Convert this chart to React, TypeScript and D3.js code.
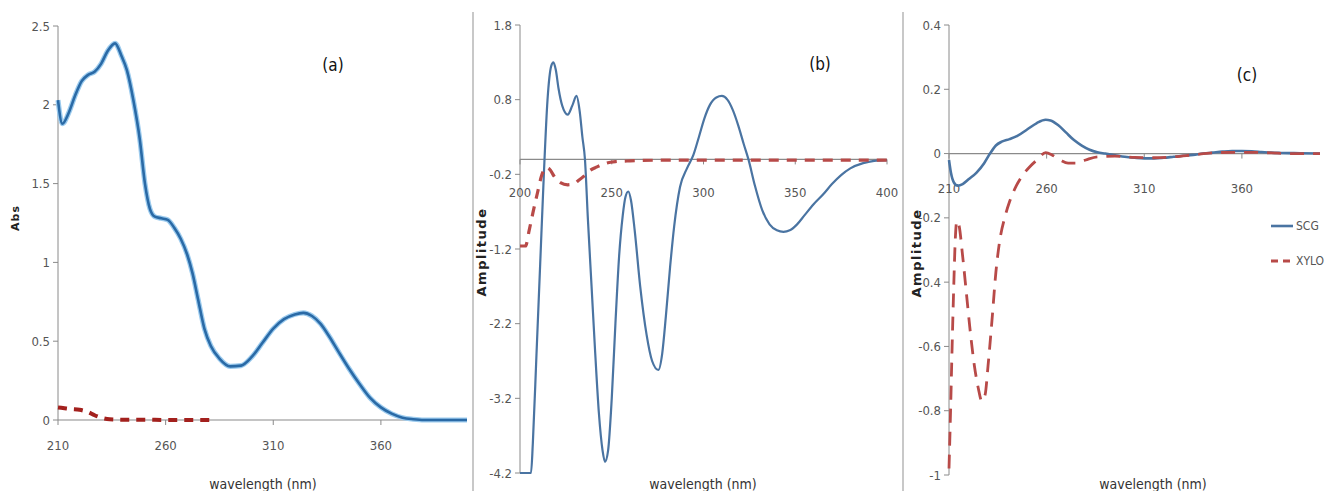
import React from 'react';
import * as d3 from 'd3';

// ---- data ----
// panel (a): absorbance spectra
const absScg: [number, number][] = [
  [210, 2.03], [212, 1.88], [215, 1.95], [218, 2.06], [221, 2.15], [224, 2.19],
  [227, 2.21], [230, 2.26], [233, 2.34], [236.5, 2.39], [239.5, 2.31], [242, 2.22],
  [245, 2.03], [248, 1.78], [250.4, 1.5], [252.7, 1.34], [255, 1.29], [258, 1.28],
  [261, 1.27], [264, 1.22], [267, 1.15], [270, 1.05], [272.5, 0.93], [275, 0.77],
  [278, 0.58], [281, 0.47], [285, 0.39], [290, 0.34], [295, 0.345], [300, 0.4],
  [305, 0.49], [310, 0.58], [315, 0.64], [320, 0.67], [324, 0.68], [328, 0.66],
  [332, 0.61], [336, 0.53], [340, 0.44], [345, 0.33], [350, 0.23], [355, 0.14],
  [360, 0.08], [365, 0.04], [370, 0.015], [375, 0.005], [380, 0], [390, 0], [400, 0],
];
const absXylo: [number, number][] = [
  [210, 0.08], [213, 0.075], [216, 0.07], [220, 0.065], [224, 0.05], [227, 0.03],
  [230, 0.015], [234, 0.005], [240, 0.002], [250, 0.002], [260, 0], [270, 0], [281, 0],
];

// panel (b): first derivative
const derScg: [number, number][] = [
  [200, -4.2], [206, -4.2], [207, -3.8], [209, -2.6], [211, -1.4], [213, -0.2],
  [215, 0.8], [217, 1.25], [218.2, 1.3], [219.5, 1.2], [221, 0.95], [223, 0.72],
  [226, 0.6], [228.5, 0.72], [230.8, 0.85], [232.5, 0.65], [234, 0.3], [235.4, 0.0],
  [237, -0.8], [239, -1.7], [241, -2.6], [243, -3.4], [245, -3.9], [246.3, -4.05],
  [248, -3.9], [250, -3.2], [252, -2.2], [254, -1.3], [256, -0.75], [257.5, -0.5],
  [259, -0.43], [260.5, -0.55], [262.5, -0.95], [265.5, -1.7], [269, -2.35],
  [272, -2.7], [275.4, -2.82], [277.5, -2.6], [279.5, -2.1], [281.8, -1.44],
  [284, -0.9], [287.2, -0.37], [291, -0.12], [294.5, 0.06], [297.5, 0.3], [300.5, 0.55],
  [303.5, 0.73], [307, 0.83], [310, 0.85], [313, 0.8], [316, 0.66], [319, 0.45],
  [322, 0.2], [324.5, 0.0], [328, -0.35], [332, -0.68], [336, -0.87], [340, -0.95],
  [343.6, -0.97], [347, -0.95], [351, -0.87], [355, -0.75], [360, -0.6], [365.5, -0.46],
  [370, -0.33], [375, -0.21], [380, -0.12], [387, -0.05], [393, -0.02], [400, -0.01],
];
const derXylo: [number, number][] = [
  [200, -1.16], [203, -1.16], [205, -0.95], [207, -0.72], [209.5, -0.45], [212, -0.2],
  [214, -0.11], [216, -0.13], [219, -0.24], [222, -0.31], [226, -0.34], [229, -0.33],
  [232, -0.28], [235, -0.22], [238, -0.15], [242, -0.1], [247, -0.05], [252, -0.03],
  [260, -0.02], [280, -0.01], [320, -0.01], [360, -0.01], [400, -0.01],
];

// panel (c): second derivative
const der2Scg: [number, number][] = [
  [210, -0.02], [211, -0.06], [212.5, -0.09], [214.5, -0.1], [217, -0.095], [220, -0.08],
  [224, -0.06], [228, -0.03], [231, 0.0], [234, 0.025], [237, 0.037], [241, 0.045],
  [245, 0.055], [250, 0.075], [255, 0.095], [259.5, 0.105], [262, 0.103], [266, 0.088],
  [270, 0.065], [274, 0.042], [278, 0.025], [282, 0.012], [286, 0.004], [290, 0],
  [295, -0.005], [300, -0.01], [305, -0.013], [310, -0.015], [315, -0.015], [320, -0.013],
  [325, -0.01], [330, -0.007], [335, -0.004], [340, 0], [345, 0.003], [350, 0.006],
  [355, 0.008], [360, 0.008], [365, 0.007], [370, 0.005], [375, 0.003], [380, 0.002],
  [390, 0.001], [400, 0],
];
const der2Xylo: [number, number][] = [
  [210, -0.98], [210.8, -0.8], [211.6, -0.6], [212.4, -0.42], [213.2, -0.27], [214, -0.21],
  [215, -0.22], [217, -0.32], [219, -0.44], [221, -0.56], [223, -0.66], [225, -0.73],
  [226.8, -0.77], [228.5, -0.75], [230, -0.66], [232, -0.52], [234, -0.37], [236, -0.27],
  [238.5, -0.2], [241, -0.15], [244.5, -0.1], [248, -0.065], [251.5, -0.04], [255, -0.02],
  [259.5, 0.003], [263, -0.005], [267, -0.02], [271, -0.03], [275, -0.03], [280, -0.02],
  [286, -0.01], [295, -0.008], [305, -0.012], [315, -0.013], [325, -0.01], [335, -0.004],
  [345, 0.002], [355, 0.004], [365, 0.004], [375, 0.002], [385, 0], [400, 0],
];

// tick values / labels
const aYTicks = [0, 0.5, 1, 1.5, 2, 2.5];
const aYLabels = ['0', '0.5', '1', '1.5', '2', '2.5'];
const aXTicks = [210, 260, 310, 360];
const bYTicks = [-4.2, -3.2, -2.2, -1.2, -0.2, 0.8, 1.8];
const bYLabels = ['-4.2', '-3.2', '-2.2', '-1.2', '-0.2', '0.8', '1.8'];
const bXTicks = [200, 250, 300, 350, 400];
const cYTicks = [-1, -0.8, -0.6, -0.4, -0.2, 0, 0.2, 0.4];
const cYLabels = ['-1', '-0.8', '-0.6', '-0.4', '-0.2', '0', '0.2', '0.4'];
const cXTicks = [210, 260, 310, 360];

const FONT = "'Liberation Sans Narrow', 'DejaVu Sans Condensed', 'Open Sans', sans-serif";
const AXIS = '#8a8a8a';
const TICK_TEXT = '#555';

type Series = { data: [number, number][]; color: string; width: number; dash?: string; halo?: string };

type PanelProps = {
  xDomain: [number, number];
  xRange: [number, number];
  yDomain: [number, number];
  yRange: [number, number];
  xTicks: number[];
  yTicks: number[];
  yLabels: string[];
  xLabelY: number;
  title: string;
  titlePos: [number, number];
  yTitle: string;
  yTitlePos: [number, number];
  yTitleSize: number;
  yTitleSpacing: number;
  xTitleX: number;
  series: Series[];
};

function Panel(p: PanelProps) {
  const x = d3.scaleLinear().domain(p.xDomain).range(p.xRange);
  const y = d3.scaleLinear().domain(p.yDomain).range(p.yRange);
  const line = d3
    .line<[number, number]>()
    .x(d => x(d[0]))
    .y(d => y(d[1]))
    .curve(d3.curveMonotoneX);
  const x0 = p.xRange[0];
  const zeroY = y(0);

  return (
    <g>
      {/* y axis */}
      <line x1={x0} x2={x0} y1={y(p.yDomain[1])} y2={y(p.yDomain[0])} stroke={AXIS} strokeWidth={1} />
      {p.yTicks.map((t, i) => (
        <g key={'yt' + i}>
          <line x1={x0 - 5} x2={x0} y1={y(t)} y2={y(t)} stroke={AXIS} />
          <text x={x0 - 8} y={y(t)} dy="0.35em" textAnchor="end" fontSize={13} fill={TICK_TEXT} fontFamily={FONT}>
            {p.yLabels[i]}
          </text>
        </g>
      ))}
      {/* x axis at zero */}
      <line x1={x0} x2={p.xRange[1]} y1={zeroY} y2={zeroY} stroke={AXIS} strokeWidth={1.2} />
      {p.xTicks.map((t, i) => (
        <g key={'xt' + i}>
          <line x1={x(t)} x2={x(t)} y1={zeroY} y2={zeroY + 5} stroke={AXIS} />
          <text x={x(t)} y={p.xLabelY} textAnchor="middle" fontSize={13} fill={TICK_TEXT} fontFamily={FONT}>
            {t}
          </text>
        </g>
      ))}
      {/* series */}
      {p.series.map((s, i) => (
        <g key={'s' + i}>
          {s.halo && (
            <path d={line(s.data) || ''} fill="none" stroke={s.halo} strokeWidth={s.width + 2.5} strokeLinejoin="round" />
          )}
          <path
            d={line(s.data) || ''}
            fill="none"
            stroke={s.color}
            strokeWidth={s.width}
            strokeDasharray={s.dash}
            strokeLinejoin="round"
          />
        </g>
      ))}
      {/* titles */}
      <text x={p.titlePos[0]} y={p.titlePos[1]} textAnchor="middle" fontSize={17} fill="#111" fontFamily={FONT}>
        {p.title}
      </text>
      <text
        transform={`translate(${p.yTitlePos[0]},${p.yTitlePos[1]}) rotate(-90)`}
        textAnchor="middle"
        fontSize={p.yTitleSize}
        fontWeight="bold"
        letterSpacing={p.yTitleSpacing}
        fill="#222"
        fontFamily="'DejaVu Sans', sans-serif"
      >
        {p.yTitle}
      </text>
      <text x={p.xTitleX} y={489} textAnchor="middle" fontSize={14} fill="#333" fontFamily={FONT}>
        wavelength (nm)
      </text>
    </g>
  );
}

export default function App() {
  const blueA = '#2a6aa6';
  const blueB = '#4a74a2';
  const red = '#b84a48';
  return (
    <div style={{ position: 'absolute', left: 0, top: 0 }}>
      <svg width={1333} height={491} style={{ display: 'block', background: '#fff' }}>
        {/* panel separators */}
        <line x1={473} x2={473} y1={12} y2={491} stroke="#c8c8c8" strokeWidth={2} />
        <line x1={903} x2={903} y1={12} y2={491} stroke="#c8c8c8" strokeWidth={2} />

        <Panel
          xDomain={[210, 400]}
          xRange={[58, 467]}
          yDomain={[0, 2.5]}
          yRange={[420, 26]}
          xTicks={aXTicks}
          yTicks={aYTicks}
          yLabels={aYLabels}
          xLabelY={450}
          title="(a)"
          titlePos={[333, 71]}
          yTitle="Abs"
          yTitlePos={[19, 218]}
          yTitleSize={11}
          yTitleSpacing={1}
          xTitleX={263}
          series={[
            { data: absScg, color: blueA, width: 2.6, halo: '#9ccbee' },
            { data: absXylo, color: '#a3201d', width: 4, dash: '9,7' },
          ]}
        />
        <Panel
          xDomain={[200, 400]}
          xRange={[520, 887]}
          yDomain={[-4.2, 1.8]}
          yRange={[473, 25]}
          xTicks={bXTicks}
          yTicks={bYTicks}
          yLabels={bYLabels}
          xLabelY={197}
          title="(b)"
          titlePos={[820, 70]}
          yTitle="Amplitude"
          yTitlePos={[486, 252]}
          yTitleSize={13}
          yTitleSpacing={1.5}
          xTitleX={703}
          series={[
            { data: derScg, color: blueB, width: 2.2 },
            { data: derXylo, color: red, width: 3.2, dash: '10,8' },
          ]}
        />
        <Panel
          xDomain={[210, 400]}
          xRange={[949, 1320]}
          yDomain={[-1, 0.4]}
          yRange={[475, 25]}
          xTicks={cXTicks}
          yTicks={cYTicks}
          yLabels={cYLabels}
          xLabelY={193}
          title="(c)"
          titlePos={[1247, 81]}
          yTitle="Amplitude"
          yTitlePos={[921, 253]}
          yTitleSize={13}
          yTitleSpacing={1.5}
          xTitleX={1153}
          series={[
            { data: der2Scg, color: blueB, width: 2.6 },
            { data: der2Xylo, color: red, width: 2.8, dash: '14,9' },
          ]}
        />

        {/* legend for panel (c) */}
        <line x1={1271} x2={1293} y1={226} y2={226} stroke={blueB} strokeWidth={2.6} />
        <text x={1296} y={226} dy="0.35em" fontSize={12} fill={TICK_TEXT} fontFamily={FONT}>
          SCG
        </text>
        <line x1={1271} x2={1293} y1={261} y2={261} stroke={red} strokeWidth={2.8} strokeDasharray="7,5" />
        <text x={1296} y={261} dy="0.35em" fontSize={12} fill={TICK_TEXT} fontFamily={FONT}>
          XYLO
        </text>
      </svg>
    </div>
  );
}
